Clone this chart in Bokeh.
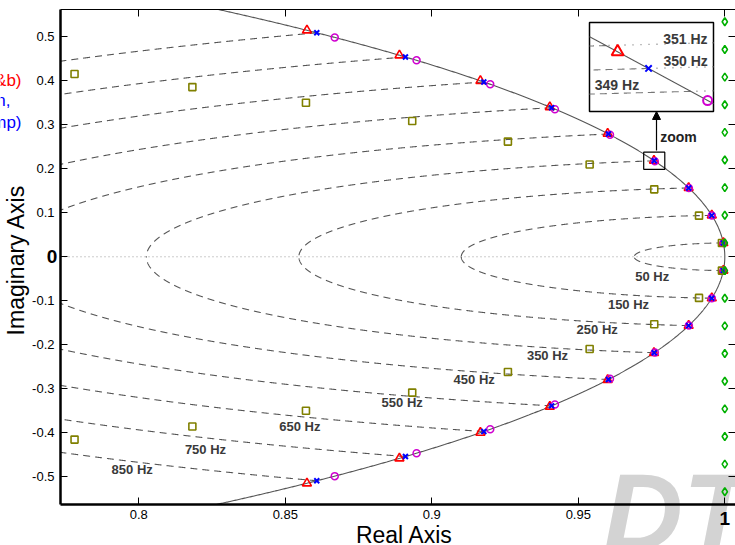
import numpy as np
from bokeh.plotting import figure
from bokeh.models import Range1d, LinearAxis, FixedTicker, Label, Arrow, NormalHead
from bokeh.core.properties import value
from bokeh.embed import file_html
from bokeh.resources import INLINE

FONT = "Liberation Sans"

# ---------------- data ----------------
freq_hz = [50, 150, 250, 350, 450, 550, 650, 750, 850]
freq_labels = ["50 Hz", "150 Hz", "250 Hz", "350 Hz", "450 Hz",
               "550 Hz", "650 Hz", "750 Hz", "850 Hz"]
sample_rate_hz = 10000.0

# exact mapping (blue x)
exact_re = [0.999507, 0.995562, 0.987688, 0.975917, 0.960294, 0.940881, 0.917755, 0.891007, 0.860742]
exact_im = [0.031411, 0.094108, 0.156434, 0.218143, 0.278991, 0.338738, 0.397148, 0.453991, 0.509041]
# Tustin (magenta circles)
tustin_re = [0.999507, 0.995568, 0.987739, 0.976108, 0.960811, 0.942010, 0.919940, 0.894807, 0.866877]
tustin_im = [0.031408, 0.094039, 0.156117, 0.217284, 0.277203, 0.335556, 0.392059, 0.446453, 0.498522]
# method (a&b) (red triangles)
ab_re = [0.999506, 0.995559, 0.987662, 0.975817, 0.960022, 0.940278, 0.916587, 0.888955, 0.857389]
ab_im = [0.031413, 0.094144, 0.156599, 0.218590, 0.279925, 0.340407, 0.399834, 0.457995, 0.514669]
# backward Euler (olive squares)
beuler_re = [0.999014, 0.991196, 0.975920, 0.953870, 0.925974, 0.893318, 0.857048, 0.818286, 0.778070]
beuler_im = [0.031385, 0.093418, 0.153297, 0.209767, 0.261813, 0.308708, 0.350024, 0.385608, 0.415544]
# forward Euler (green diamonds)
feuler_re = [1.0, 1.0, 1.0, 1.0, 1.0, 1.0, 1.0, 1.0, 1.0]
feuler_im = [0.031416, 0.094248, 0.157080, 0.219911, 0.282743, 0.345575, 0.408407, 0.471239, 0.534071]

y_ticks = [-0.5, -0.4, -0.3, -0.2, -0.1, 0.0, 0.1, 0.2, 0.3, 0.4, 0.5]
y_tick_labels = ["-0.5", "-0.4", "-0.3", "-0.2", "-0.1", "", "0.1", "0.2", "0.3", "0.4", "0.5"]
x_ticks = [0.8, 0.85, 0.9, 0.95, 1.0]
x_tick_labels = ["0.8", "0.85", "0.9", "0.95", ""]

inset_freqs = [349, 350, 351]
inset_labels = ["349 Hz", "350 Hz", "351 Hz"]
zoom_index = 3  # the 350 Hz point

# ---------------- layout constants ----------------
# plot box (where the axes are drawn)
PX0, PX1 = 0.77328, 1.00365
PY0, PY1 = -0.5630, 0.5620
# whole canvas in data units (frame = canvas, 2930 px/unit in x, 440 px/unit in y)
CX0, CX1 = 0.75280, 1.00365
CY0, CY1 = -0.65619, 0.58245
BX = (0.95382, 0.99614)      # inset box (main data coords)
BY = (0.33023, 0.53250)
VX = (0.975726, 0.976127)    # inset view window
VY = (0.216991, 0.219375)

GRAY = "#555555"
DASH = "7 5"

p = figure(width=735, height=545, x_range=Range1d(CX0, CX1), y_range=Range1d(CY0, CY1),
           output_backend="svg", toolbar_location=None,
           min_border=0, min_border_left=0, min_border_right=0, min_border_top=0,
           min_border_bottom=0, x_axis_location=None, y_axis_location=None)
p.xgrid.visible = False
p.ygrid.visible = False
p.outline_line_color = None
p.background_fill_color = "white"
p.border_fill_color = "white"


def style_axis(ax, ticks, labels, show, lw):
    ax.ticker = FixedTicker(ticks=ticks)
    ax.major_label_overrides = {t: l for t, l in zip(ticks, labels)}
    ax.major_tick_in = 7
    ax.major_tick_out = 0
    ax.minor_tick_in = 0
    ax.minor_tick_out = 0
    ax.axis_line_width = lw
    ax.major_tick_line_width = 1
    ax.axis_line_color = "black"
    ax.major_label_text_font = FONT
    if show:
        ax.major_label_text_font_size = "13px"
        ax.major_label_standoff = 6
        ax.major_label_text_color = "black"
    else:
        ax.major_label_text_font_size = "0px"
        ax.major_label_standoff = 0


left = LinearAxis(fixed_location=PX0, bounds=(PY0, PY1))
style_axis(left, y_ticks, y_tick_labels, True, 2.5)
bottom = LinearAxis(fixed_location=PY0, bounds=(PX0, PX1))
style_axis(bottom, x_ticks, x_tick_labels, True, 2.5)
top = LinearAxis(fixed_location=PY1, bounds=(PX0, PX1))
style_axis(top, x_ticks, [""] * len(x_ticks), False, 1)
right = LinearAxis(fixed_location=PX1, bounds=(PY0, PY1))
style_axis(right, y_ticks, [""] * len(y_ticks), False, 1)
p.add_layout(left, "left")
p.add_layout(bottom, "below")
p.add_layout(top, "above")
p.add_layout(right, "right")

# watermark (beneath everything)
p.add_layout(Label(x=0.9586, y=-0.5788, text="DT", text_font=FONT, text_font_size="110px",
                   text_font_style="bold italic", text_color="#d3d3d3",
                   text_align="left", text_baseline="alphabetic", level="underlay"))


def clip_box(x, y):
    x = np.asarray(x); y = np.asarray(y)
    m = (x >= PX0) & (x <= PX1) & (y >= PY0) & (y <= PY1)
    return x[m], y[m]


# real axis dotted
p.line([PX0, 1.0], [0, 0], line_color="#999999", line_width=1, line_dash="1 3")

# constant natural-frequency contours
zeta = np.linspace(0.0, 1.0, 5001)
for f in freq_hz:
    w = 2 * np.pi * f / sample_rate_hz
    r = np.exp(-zeta * w)
    a = w * np.sqrt(1 - zeta ** 2)
    xu, yu = clip_box(r * np.cos(a), r * np.sin(a))
    xl, yl = clip_box(r * np.cos(a), -r * np.sin(a))
    p.line(xu, yu, line_color=GRAY, line_width=1.1, line_dash=DASH)
    p.line(xl, yl, line_color=GRAY, line_width=1.1, line_dash=DASH)

# unit circle
ang = np.linspace(np.arcsin(PY0), np.arcsin(PY1), 2001)
p.line(np.cos(ang), np.sin(ang), line_color=GRAY, line_width=1.1)


def conj(v):
    return list(v) + [-x for x in v]


p.scatter(ab_re + ab_re, conj(ab_im), marker="triangle", size=9, fill_color=None,
          line_color="#ff0000", line_width=1.6)
p.scatter(tustin_re + tustin_re, conj(tustin_im), marker="circle", size=7, fill_color=None,
          line_color="#d000d0", line_width=1.5)
p.scatter(exact_re + exact_re, conj(exact_im), marker="x", size=7, line_color="#0000ff",
          line_width=2)
p.scatter(beuler_re + beuler_re, conj(beuler_im), marker="square", size=7, fill_color=None,
          line_color="#808000", line_width=1.6)
p.scatter(feuler_re + feuler_re, conj(feuler_im), marker="diamond", size=8, fill_color=None,
          line_color="#00b000", line_width=1.6)

# frequency labels
lab_x = [0.97522, 0.96713, 0.95645, 0.93949, 0.91447, 0.8899, 0.85495, 0.82276, 0.79775]
lab_y = [-0.0441, -0.1084, -0.1652, -0.2243, -0.2789, -0.3318, -0.385, -0.4386, -0.4841]
p.text(lab_x, lab_y, text=freq_labels, text_font=value(FONT), text_font_size="13px",
       text_font_style="bold", text_color="#3a3a3a", text_align="center",
       text_baseline="middle")

# small zoom rectangle around the 350 Hz point
zx, zy = exact_re[zoom_index], exact_im[zoom_index]
p.quad(left=[zx - 0.0036], right=[zx + 0.0036], bottom=[zy - 0.0195], top=[zy + 0.0195],
       fill_color=None, line_color="black", line_width=1.2)
p.add_layout(Arrow(end=NormalHead(size=8, fill_color="black", line_color="black"),
                   x_start=0.97669, y_start=0.2416, x_end=0.97669, y_end=BY[0],
                   line_color="black", line_width=1.2))
p.add_layout(Label(x=0.98420, y=0.2711, text="zoom", text_font=FONT, text_font_size="14px",
                   text_font_style="bold", text_color="#222222", text_align="center",
                   text_baseline="middle"))

# inset box
p.quad(left=[BX[0]], right=[BX[1]], bottom=[BY[0]], top=[BY[1]], fill_color="white",
       line_color="black", line_width=1.5)


def mapr(u, a, b):
    return a[0] + (u - b[0]) * (a[1] - a[0]) / (b[1] - b[0])


p.extra_x_ranges = {"ix": Range1d(mapr(CX0, VX, BX), mapr(CX1, VX, BX))}
p.extra_y_ranges = {"iy": Range1d(mapr(CY0, VY, BY), mapr(CY1, VY, BY))}


def inside(x, y):
    m = (x >= VX[0]) & (x <= VX[1]) & (y >= VY[0]) & (y <= VY[1])
    return x[m], y[m]


zi = np.linspace(-0.004, 0.004, 8001)
for f in inset_freqs:
    w = 2 * np.pi * f / sample_rate_hz
    r = np.exp(-zi * w)
    a = w * np.sqrt(1 - zi ** 2)
    xx, yy = r * np.cos(a), r * np.sin(a)
    pos = zi >= 0
    xa, ya = inside(xx[pos], yy[pos])
    xb, yb = inside(xx[~pos], yy[~pos])
    p.line(xa, ya, x_range_name="ix", y_range_name="iy", line_color="#777777",
           line_width=1.1, line_dash=DASH)
    p.line(xb, yb, x_range_name="ix", y_range_name="iy", line_color="#777777",
           line_width=1.4, line_dash="1 7")

ai = np.linspace(0.214, 0.226, 6001)
cx, cy = inside(np.cos(ai), np.sin(ai))
p.line(cx, cy, x_range_name="ix", y_range_name="iy", line_color=GRAY, line_width=1.1)

k = zoom_index
p.scatter([ab_re[k]], [ab_im[k]], x_range_name="ix", y_range_name="iy", marker="triangle",
          size=12, fill_color=None, line_color="#ff0000", line_width=2)
p.scatter([exact_re[k]], [exact_im[k]], x_range_name="ix", y_range_name="iy", marker="x",
          size=9, line_color="#0000ff", line_width=2)
p.scatter([tustin_re[k]], [tustin_im[k]], x_range_name="ix", y_range_name="iy", marker="circle",
          size=9, fill_color=None, line_color="#d000d0", line_width=2)

inset_lab_x = [0.95563, 0.99420, 0.99410]
inset_lab_y = [0.3893, 0.4439, 0.4955]
inset_align = ["left", "right", "right"]
for tx, ty, t, al in zip(inset_lab_x, inset_lab_y, inset_labels, inset_align):
    p.add_layout(Label(x=tx, y=ty, text=t, text_font=FONT, text_font_size="14px",
                       text_font_style="bold", text_color="#3a3a3a", text_align=al,
                       text_baseline="middle"))

# bold tick labels "0" and "1"
p.add_layout(Label(x=0.77215, y=0.0, text="0", text_font=FONT, text_font_size="19px",
                   text_font_style="bold", text_color="black", text_align="right",
                   text_baseline="middle"))
p.add_layout(Label(x=1.0, y=-0.5955, text="1", text_font=FONT, text_font_size="19px",
                   text_font_style="bold", text_color="black", text_align="center",
                   text_baseline="middle"))

# axis titles
p.add_layout(Label(x=0.75792, y=-0.0073, text="Imaginary Axis", text_font=FONT,
                   text_font_size="23px", text_color="black", angle=np.pi / 2,
                   text_align="center", text_baseline="middle"))
p.add_layout(Label(x=0.89068, y=-0.6334, text="Real Axis", text_font=FONT,
                   text_font_size="23px", text_color="black", text_align="center",
                   text_baseline="middle"))

# legend fragments cut off at the left window edge
frag_text = ["(a&b)", "approximation,", "(Ramp)"]
frag_color = ["#ff0000", "#0000ff", "#0000ff"]
frag_x = [0.75997, 0.75621, 0.75997]
frag_y = [0.4007, 0.3552, 0.3061]
for t, c, xx, yy in zip(frag_text, frag_color, frag_x, frag_y):
    p.add_layout(Label(x=xx, y=yy, text=t, text_font=FONT, text_font_size="17px",
                       text_color=c, text_align="right", text_baseline="middle"))

open("out.html", "w").write(file_html(p, INLINE))
